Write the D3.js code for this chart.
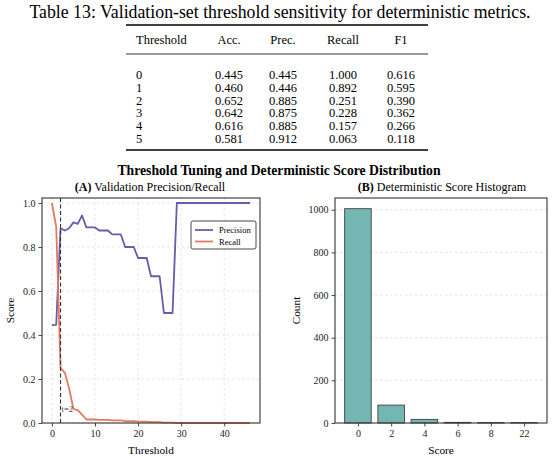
<!DOCTYPE html>
<html>
<head>
<meta charset="utf-8">
<script src="https://cdn.jsdelivr.net/npm/d3@7"></script>
<style>
  body { margin: 0; background: #fff; }
  svg { display: block; font-family: "Liberation Serif", "Times New Roman", serif; }
</style>
</head>
<body>
<svg id="fig" width="559" height="459"></svg>
<script>
// table data
var tableHeader = ["Threshold", "Acc.", "Prec.", "Recall", "F1"];
var tableRows = [
  ["0", "0.445", "0.445", "1.000", "0.616"],
  ["1", "0.460", "0.446", "0.892", "0.595"],
  ["2", "0.652", "0.885", "0.251", "0.390"],
  ["3", "0.642", "0.875", "0.228", "0.362"],
  ["4", "0.616", "0.885", "0.157", "0.266"],
  ["5", "0.581", "0.912", "0.063", "0.118"]
];

// panel A: threshold sweep
var thresholds = d3.range(0, 47);
var precision = [0.445, 0.446, 0.885, 0.875, 0.885, 0.912, 0.905, 0.943, 0.889, 0.889,
  0.889, 0.875, 0.875, 0.875, 0.857, 0.857, 0.857, 0.8, 0.8, 0.8,
  0.75, 0.75, 0.75, 0.667, 0.667, 0.667, 0.5, 0.5, 0.5, 1, 1, 1, 1, 1, 1, 1, 1, 1, 1, 1,
  1, 1, 1, 1, 1, 1, 1];
var recall = [1.0, 0.892, 0.251, 0.228, 0.157, 0.063, 0.059, 0.038, 0.016, 0.016,
  0.016, 0.014, 0.014, 0.014, 0.012, 0.012, 0.012, 0.008, 0.008, 0.008,
  0.006, 0.006, 0.006, 0.004, 0.004, 0.004, 0.002, 0.002, 0.002, 0, 0, 0, 0, 0, 0, 0, 0, 0, 0, 0,
  0, 0, 0, 0, 0, 0, 0];
var chosenT = 2;

// panel B: histogram
var scoreBins = ["0", "2", "4", "6", "8", "22"];
var scoreCounts = [1005, 84, 17, 3, 2, 2];

var precColor = "#6a5aad";
var recColor = "#e07b61";
var barColor = "#74b6b1";
var spine = "#333";

var svg = d3.select("#fig");

// ---- table ----
svg.append("text").attr("x", 280).attr("y", 18).attr("text-anchor", "middle")
  .style("font-size", "17.8px")
  .text("Table 13: Validation-set threshold sensitivity for deterministic metrics.");

var tx0 = 126, tx1 = 428;
var colX = [136, 229, 283, 343, 401];
var rule = function(y, w) {
  svg.append("line").attr("x1", tx0).attr("x2", tx1).attr("y1", y).attr("y2", y)
    .attr("stroke", "#000").attr("stroke-width", w);
};
rule(25, 1.3);
rule(54, 0.8);
rule(150, 1.3);
var tb = svg.append("g").style("font-size", "12.5px");
tableHeader.forEach(function(h, i) {
  tb.append("text").attr("x", colX[i]).attr("y", 44)
    .attr("text-anchor", i === 0 ? "start" : "middle").text(h);
});
tableRows.forEach(function(r, j) {
  r.forEach(function(v, i) {
    tb.append("text").attr("x", colX[i]).attr("y", 79 + j * 12.8)
      .attr("text-anchor", i === 0 ? "start" : "middle").text(v);
  });
});

// ---- titles ----
svg.append("text").attr("x", 279).attr("y", 175).attr("text-anchor", "middle")
  .style("font-size", "13.7px").style("font-weight", "bold")
  .text("Threshold Tuning and Deterministic Score Distribution");

function subtitle(x, tag, txt) {
  var t = svg.append("text").attr("x", x).attr("y", 191).attr("text-anchor", "middle")
    .style("font-size", "12px");
  t.append("tspan").style("font-weight", "bold").text(tag);
  t.append("tspan").text(" " + txt);
}
subtitle(150, "(A)", "Validation Precision/Recall");
subtitle(442, "(B)", "Deterministic Score Histogram");

function styleAxis(g) {
  g.selectAll(".domain").remove();
  g.selectAll(".tick line").attr("stroke", spine).attr("stroke-width", 0.9);
  g.selectAll(".tick text").style("font-family", "Liberation Serif, serif")
    .style("font-size", "10px").attr("fill", "#222");
}

// ---- panel A ----
var A = { l: 42, r: 260, t: 198, b: 423 };
var xA = d3.scaleLinear().domain([-2.3, 48.3]).range([A.l, A.r]);
var yA = d3.scaleLinear().domain([0, 1.0227]).range([A.b, A.t]);
var gA = svg.append("g");

gA.append("g").selectAll("line").data(xA.ticks(5)).join("line")
  .attr("x1", xA).attr("x2", xA).attr("y1", A.t).attr("y2", A.b)
  .attr("stroke", "#d8d8d8").attr("stroke-width", 0.7).attr("stroke-dasharray", "2.5,2.5");
gA.append("g").selectAll("line").data(yA.ticks(5)).join("line")
  .attr("y1", yA).attr("y2", yA).attr("x1", A.l).attr("x2", A.r)
  .attr("stroke", "#d8d8d8").attr("stroke-width", 0.7).attr("stroke-dasharray", "2.5,2.5");

var ptsP = thresholds.map(function(t, i) { return [t, precision[i]]; });
var ptsR = thresholds.map(function(t, i) { return [t, recall[i]]; });
var lineA = d3.line().x(function(d) { return xA(d[0]); }).y(function(d) { return yA(d[1]); });

gA.append("path").datum(ptsP).attr("d", lineA).attr("fill", "none")
  .attr("stroke", precColor).attr("stroke-width", 1.8).attr("stroke-linejoin", "round");
gA.append("path").datum(ptsR).attr("d", lineA).attr("fill", "none")
  .attr("stroke", recColor).attr("stroke-width", 1.8).attr("stroke-linejoin", "round");

gA.append("line").attr("x1", xA(chosenT)).attr("x2", xA(chosenT))
  .attr("y1", A.b).attr("y2", A.t)
  .attr("stroke", "#333").attr("stroke-width", 1.1).attr("stroke-dasharray", "4,2.5");
gA.append("text").attr("x", xA(chosenT) + 1).attr("y", yA(0.048))
  .style("font-size", "8.5px").attr("fill", "#444").text("t=2");

gA.append("rect").attr("x", A.l).attr("y", A.t).attr("width", A.r - A.l).attr("height", A.b - A.t)
  .attr("fill", "none").attr("stroke", spine).attr("stroke-width", 1.1);

gA.append("g").attr("transform", "translate(0," + A.b + ")")
  .call(d3.axisBottom(xA).tickValues([0, 10, 20, 30, 40]).tickSize(3.5).tickPadding(3))
  .call(styleAxis);
gA.append("g").attr("transform", "translate(" + A.l + ",0)")
  .call(d3.axisLeft(yA).tickValues([0, 0.2, 0.4, 0.6, 0.8, 1.0]).tickFormat(d3.format(".1f"))
    .tickSize(3.5).tickPadding(3))
  .call(styleAxis);

gA.append("text").attr("x", (A.l + A.r) / 2).attr("y", 454).attr("text-anchor", "middle")
  .style("font-size", "11.3px").text("Threshold");
gA.append("text").attr("transform", "translate(14," + (A.t + A.b) / 2 + ") rotate(-90)")
  .attr("text-anchor", "middle").style("font-size", "11.3px").text("Score");

// legend
var lg = gA.append("g").attr("transform", "translate(191,221)");
lg.append("rect").attr("width", 65).attr("height", 28).attr("rx", 2)
  .attr("fill", "#fff").attr("stroke", "#333").attr("stroke-width", 0.9);
[["Precision", precColor], ["Recall", recColor]].forEach(function(e, i) {
  var y = 9 + i * 11.5;
  lg.append("line").attr("x1", 4).attr("x2", 22).attr("y1", y).attr("y2", y)
    .attr("stroke", e[1]).attr("stroke-width", 1.8);
  lg.append("text").attr("x", 28).attr("y", y + 3).style("font-size", "8.5px").text(e[0]);
});

// ---- panel B ----
var B = { l: 335, r: 547, t: 198, b: 423 };
var xB = d3.scaleLinear().domain([-0.69, 5.69]).range([B.l, B.r]);
var yB = d3.scaleLinear().domain([0, 1055]).range([B.b, B.t]);
var gB = svg.append("g");

gB.append("g").selectAll("line").data([200, 400, 600, 800, 1000]).join("line")
  .attr("y1", yB).attr("y2", yB).attr("x1", B.l).attr("x2", B.r)
  .attr("stroke", "#d8d8d8").attr("stroke-width", 0.7).attr("stroke-dasharray", "2.5,2.5");

gB.selectAll("rect.bar").data(scoreCounts).join("rect").attr("class", "bar")
  .attr("x", function(d, i) { return xB(i - 0.4); })
  .attr("width", xB(0.8) - xB(0))
  .attr("y", function(d) { return yB(d); })
  .attr("height", function(d) { return yB(0) - yB(d); })
  .attr("fill", barColor).attr("stroke", "#444").attr("stroke-width", 0.9);

gB.append("rect").attr("x", B.l).attr("y", B.t).attr("width", B.r - B.l).attr("height", B.b - B.t)
  .attr("fill", "none").attr("stroke", spine).attr("stroke-width", 1.1);

gB.append("g").attr("transform", "translate(0," + B.b + ")")
  .call(d3.axisBottom(xB).tickValues(d3.range(scoreBins.length))
    .tickFormat(function(i) { return scoreBins[i]; }).tickSize(3.5).tickPadding(3))
  .call(styleAxis);
gB.append("g").attr("transform", "translate(" + B.l + ",0)")
  .call(d3.axisLeft(yB).tickValues([0, 200, 400, 600, 800, 1000]).tickFormat(d3.format("d"))
    .tickSize(3.5).tickPadding(3))
  .call(styleAxis);

gB.append("text").attr("x", (B.l + B.r) / 2).attr("y", 454).attr("text-anchor", "middle")
  .style("font-size", "11.3px").text("Score");
gB.append("text").attr("transform", "translate(300," + (B.t + B.b) / 2 + ") rotate(-90)")
  .attr("text-anchor", "middle").style("font-size", "11.3px").text("Count");
</script>
</body>
</html>
